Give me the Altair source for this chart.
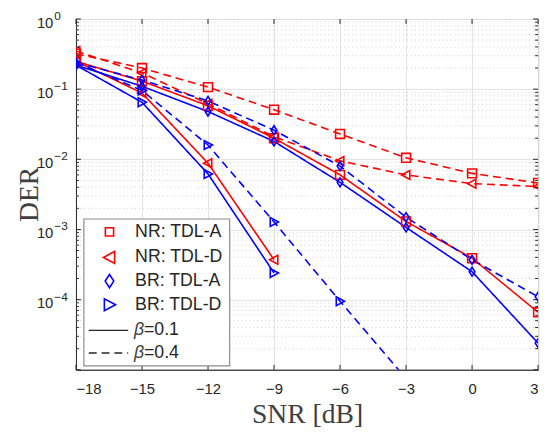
import altair as alt
import pandas as pd

snr = [-18, -15, -12, -9, -6, -3, 0, 3]

nr_a_01 = [0.25, 0.13, 0.058, 0.020, 0.0060, 0.0013, 0.00039, 0.000066]
nr_a_04 = [0.32, 0.20, 0.107, 0.051, 0.023, 0.0105, 0.0063, 0.0046]
nr_d_01 = [0.25, 0.088, 0.0088, 0.00037]
nr_d_04 = [0.35, 0.17, 0.062, 0.021, 0.0095, 0.0060, 0.0045, 0.0041]
br_a_01 = [0.22, 0.11, 0.048, 0.018, 0.0047, 0.00107, 0.00025, 0.000024]
br_a_04 = [0.24, 0.135, 0.068, 0.026, 0.0080, 0.0015, 0.00037, 0.00011]
br_d_01 = [0.22, 0.065, 0.0062, 0.00024]
br_d_04 = [0.24, 0.096, 0.016, 0.00128, 0.000095, 0.0000075]

series_names = ["NR-A-0.1", "NR-A-0.4", "NR-D-0.1", "NR-D-0.4",
                "BR-A-0.1", "BR-A-0.4", "BR-D-0.1", "BR-D-0.4"]
series_vals = [nr_a_01, nr_a_04, nr_d_01, nr_d_04, br_a_01, br_a_04, br_d_01, br_d_04]

legend_labels = ["NR: TDL-A", "NR: TDL-D", "BR: TDL-A", "BR: TDL-D"]
beta_labels = ["=0.1", "=0.4"]

x_ticks = [-18, -15, -12, -9, -6, -3, 0, 3]
y_major = [1, 0.1, 0.01, 0.001, 0.0001, 0.00001]
y_lab_vals = [1, 0.1, 0.01, 0.001, 0.0001]
y_lab_exp = ["0", "−1", "−2", "−3", "−4"]

rows = []
for name, vals in zip(series_names, series_vals):
    for s, v in zip(snr, vals):
        rows.append({"snr": s, "der": v, "series": name})
df = pd.DataFrame(rows)

RED = "#ff0000"
BLUE = "#0000ff"
SQ = "M-1,-1L1,-1L1,1L-1,1Z"
TL = "M-1,0L0.85,-1L0.85,1Z"
TR = "M1,0L-0.85,-1L-0.85,1Z"
DI = "M0,-1L0.65,0L0,1L-0.65,0Z"

color_scale = alt.Scale(domain=series_names,
                        range=[RED, RED, RED, RED, BLUE, BLUE, BLUE, BLUE])
dash_scale = alt.Scale(domain=series_names,
                       range=[[1, 0], [8, 5]] * 4)
shape_scale = alt.Scale(domain=series_names,
                        range=[SQ, SQ, TL, TL, DI, DI, TR, TR])
size_scale = alt.Scale(domain=series_names,
                       range=[81, 81, 200, 200, 225, 225, 200, 200])

W, H = 469, 356
xs = alt.Scale(domain=[-18, 3], nice=False)
ys = alt.Scale(type="log", domain=[1e-5, 1], nice=False)

base = alt.Chart(df)

lines = base.mark_line(clip=True, strokeWidth=1.6).encode(
    x=alt.X("snr:Q", scale=xs,
            axis=alt.Axis(values=x_ticks, title="SNR [dB]", grid=True, ticks=False,
                          labelExpr="replace(datum.label, '-', '−')",
                          labelPadding=12, titlePadding=5)),
    y=alt.Y("der:Q", scale=ys,
            axis=alt.Axis(values=y_major, title=None, grid=True, ticks=False,
                          labels=False)),
    color=alt.Color("series:N", scale=color_scale, legend=None),
    strokeDash=alt.StrokeDash("series:N", scale=dash_scale, legend=None),
    detail="series:N",
)

points = base.mark_point(clip=True, filled=False, strokeWidth=1.6, opacity=1).encode(
    x=alt.X("snr:Q", scale=xs),
    y=alt.Y("der:Q", scale=ys),
    color=alt.Color("series:N", scale=color_scale, legend=None),
    shape=alt.Shape("series:N", scale=shape_scale, legend=None),
    size=alt.Size("series:N", scale=size_scale, legend=None),
)

# y tick labels as 10 + superscript
ylab_df = pd.DataFrame({"v": y_lab_vals, "e": y_lab_exp})
ylab_base = alt.Chart(ylab_df).mark_text(
    text="10", align="right", baseline="middle", dy=4,
    font="Liberation Sans", fontSize=15, color="#262626").encode(
    y=alt.Y("v:Q", scale=ys), x=alt.value(-23))
ylab_exp = alt.Chart(ylab_df).mark_text(
    align="left", baseline="middle", dy=-3,
    font="Liberation Sans", fontSize=12, color="#262626").encode(
    y=alt.Y("v:Q", scale=ys), x=alt.value(-22), text="e:N")
ytitle = alt.Chart(pd.DataFrame({"t": ["DER"]})).mark_text(
    angle=270, align="center", baseline="middle",
    font="Liberation Serif", fontSize=28, color="#404040").encode(
    text="t:N", x=alt.value(-47), y=alt.value(H / 2))

# minor grid and tick data
minor_vals = []
for k in range(-5, 0):
    for m in range(2, 10):
        minor_vals.append(m * 10 ** k)
minor_df = pd.DataFrame({"v": minor_vals})
major_df = pd.DataFrame({"v": y_major})
xt_df = pd.DataFrame({"t": x_ticks})

minor_grid = alt.Chart(minor_df).mark_rule(color="#d0d0d0", strokeDash=[1, 3], strokeWidth=1).encode(
    y=alt.Y("v:Q", scale=ys), x=alt.value(0), x2=alt.value(W))

tick_color = "#262626"
yl_minor = alt.Chart(minor_df).mark_rule(color=tick_color, strokeWidth=1).encode(
    y=alt.Y("v:Q", scale=ys), x=alt.value(0), x2=alt.value(3))
yr_minor = alt.Chart(minor_df).mark_rule(color=tick_color, strokeWidth=1).encode(
    y=alt.Y("v:Q", scale=ys), x=alt.value(W), x2=alt.value(W - 3))
yl_major = alt.Chart(major_df).mark_rule(color=tick_color, strokeWidth=1).encode(
    y=alt.Y("v:Q", scale=ys), x=alt.value(0), x2=alt.value(5))
yr_major = alt.Chart(major_df).mark_rule(color=tick_color, strokeWidth=1).encode(
    y=alt.Y("v:Q", scale=ys), x=alt.value(W), x2=alt.value(W - 5))
xb = alt.Chart(xt_df).mark_rule(color=tick_color, strokeWidth=1).encode(
    x=alt.X("t:Q", scale=xs), y=alt.value(H), y2=alt.value(H - 5))
xtop = alt.Chart(xt_df).mark_rule(color=tick_color, strokeWidth=1).encode(
    x=alt.X("t:Q", scale=xs), y=alt.value(0), y2=alt.value(5))

# custom legend
LX0, LX1, LY0, LY1 = 8, 156, 203, 352
row_y = [216, 242, 266, 290, 316, 339]
leg_box = alt.Chart(pd.DataFrame({"a": [0]})).mark_rect(
    fill="white", stroke="#8c8c8c", strokeWidth=1.2).encode(
    x=alt.value(LX0), x2=alt.value(LX1), y=alt.value(LY0), y2=alt.value(LY1))

leg_layers = [leg_box]
leg_shapes = [SQ, TL, DI, TR]
leg_sizes = [70, 150, 180, 150]
leg_colors = [RED, RED, BLUE, BLUE]
for i in range(4):
    leg_layers.append(alt.Chart(pd.DataFrame({"a": [0]})).mark_point(
        filled=False, strokeWidth=1.6, opacity=1, color=leg_colors[i],
        shape=leg_shapes[i], size=leg_sizes[i]).encode(
        x=alt.value(34), y=alt.value(row_y[i])))
    leg_layers.append(alt.Chart(pd.DataFrame({"a": [0]})).mark_text(
        text=legend_labels[i], align="left", baseline="middle",
        font="Liberation Sans", fontSize=18, color="#262626").encode(
        x=alt.value(60), y=alt.value(row_y[i])))
for j in range(2):
    yy = row_y[4 + j]
    rule = alt.Chart(pd.DataFrame({"a": [0]})).mark_rule(
        color="#262626", strokeWidth=1.5,
        strokeDash=[1, 0] if j == 0 else [8, 5]).encode(
        x=alt.value(13), x2=alt.value(53), y=alt.value(yy))
    leg_layers.append(rule)
    leg_layers.append(alt.Chart(pd.DataFrame({"a": [0]})).mark_text(
        text="β", align="left", baseline="middle", fontStyle="italic",
        font="Liberation Sans", fontSize=18, color="#404040").encode(
        x=alt.value(59), y=alt.value(yy)))
    leg_layers.append(alt.Chart(pd.DataFrame({"a": [0]})).mark_text(
        text=beta_labels[j], align="left", baseline="middle",
        font="Liberation Sans", fontSize=18, color="#262626").encode(
        x=alt.value(69), y=alt.value(yy)))

chart = alt.layer(
    minor_grid, lines, points, yl_minor, yr_minor, yl_major, yr_major, xb, xtop,
    ylab_base, ylab_exp, ytitle,
    *leg_layers
).properties(
    width=W, height=H,
    autosize=alt.AutoSizeParams(type="none"),
    padding={"left": 69, "top": 8, "right": 5, "bottom": 62},
).configure_view(
    stroke="#262626", strokeWidth=1
).configure_axis(
    domainColor="#262626", domainWidth=1,
    gridColor="#e3e3e3", gridWidth=1,
    labelFont="Liberation Sans", labelFontSize=15, labelColor="#262626",
    titleFont="Liberation Serif", titleFontSize=28, titleFontWeight="normal",
    titleColor="#404040",
)

chart.save("out.html", embed_options={"renderer": "svg", "actions": False})
